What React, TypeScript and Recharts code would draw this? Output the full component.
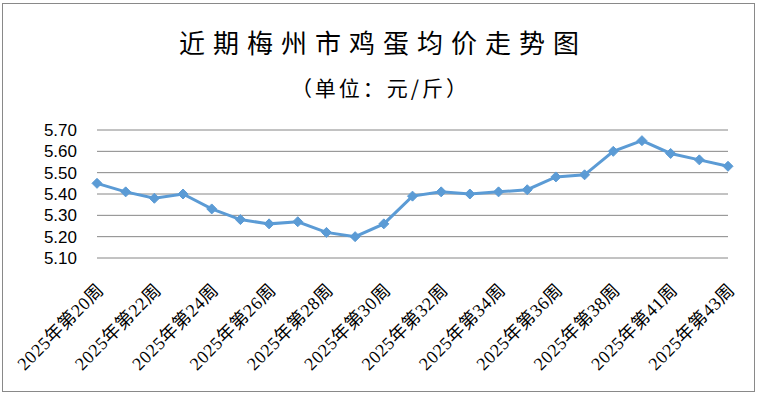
import React from "react";
import { LineChart, Line, XAxis, YAxis, CartesianGrid } from "recharts";

const weeks: number[] = [20, 21, 22, 23, 24, 25, 26, 27, 28, 29, 30, 31, 32, 33, 34, 35, 36, 37, 38, 39, 41, 42, 43];
const prices: number[] = [5.45, 5.41, 5.38, 5.4, 5.33, 5.28, 5.26, 5.27, 5.22, 5.2, 5.26, 5.39, 5.41, 5.4, 5.41, 5.42, 5.48, 5.49, 5.6, 5.65, 5.59, 5.56, 5.53];
const yTicks: number[] = [5.1, 5.2, 5.3, 5.4, 5.5, 5.6, 5.7];
const title = "近期梅州市鸡蛋均价走势图";
const subtitle = "（单位：元/斤）";

const data = weeks.map((w, i) => ({ label: `2025年第${w}周`, price: prices[i] }));

const LINE = "#5b9bd5";

const Diamond = (props: any) => {
  const { cx, cy } = props;
  if (cx == null || cy == null) return null;
  const r = 5;
  return <polygon points={`${cx},${cy - r} ${cx + r},${cy} ${cx},${cy + r} ${cx - r},${cy}`} fill={LINE} stroke={LINE} strokeWidth={1} />;
};

const XTick = (props: any) => {
  const { x, y, payload } = props;
  const px = x + 8;
  const py = y + 25;
  return (
    <text
      x={px}
      y={py}
      textAnchor="end"
      transform={`rotate(-45, ${px}, ${py})`}
      fontSize={18}
      letterSpacing={0.6}
      fontFamily="'Liberation Serif', 'Noto Sans CJK SC', serif"
      fill="#000"
    >
      {payload.value}
    </text>
  );
};

export default function App() {
  return (
    <div style={{ position: "absolute", left: 0, top: 0, width: 758, height: 394, background: "#fff" }}>
      <div style={{ position: "absolute", left: 2, top: 3, width: 751, height: 387, border: "1px solid #898989" }} />
      <div
        style={{
          position: "absolute",
          left: 0,
          top: 26,
          width: 758,
          textAlign: "center",
          fontSize: 26,
          lineHeight: "32px",
          letterSpacing: 8,
          textIndent: 8,
          fontFamily: "'Noto Sans CJK SC', sans-serif",
          color: "#000",
        }}
      >
        {title}
      </div>
      <div
        style={{
          position: "absolute",
          left: 0,
          top: 74,
          width: 758,
          textAlign: "center",
          fontSize: 21,
          lineHeight: "26px",
          letterSpacing: 3,
          textIndent: 3,
          fontFamily: "'Noto Sans CJK SC', sans-serif",
          color: "#000",
        }}
      >
        {subtitle}
      </div>
      <div style={{ position: "absolute", left: 0, top: 0 }}>
        <LineChart width={758} height={394} data={data} margin={{ top: 130, right: 30, bottom: 0, left: 0 }}>
          <CartesianGrid vertical={false} stroke="#868686" strokeWidth={1} />
          <XAxis
            dataKey="label"
            interval={1}
            axisLine={false}
            tickLine={false}
            height={136}
            tick={<XTick />}
          />
          <YAxis
            domain={[5.1, 5.7]}
            ticks={yTicks}
            interval={0}
            width={97}
            axisLine={false}
            tickLine={false}
            tickMargin={14}
            tickFormatter={(v: number) => v.toFixed(2)}
            tick={{ fontSize: 17, fill: "#000", fontFamily: "'Liberation Sans', sans-serif" }}
          />
          <Line
            type="linear"
            dataKey="price"
            stroke={LINE}
            strokeWidth={3}
            dot={<Diamond />}
            activeDot={false}
            isAnimationActive={false}
          />
        </LineChart>
      </div>
    </div>
  );
}
